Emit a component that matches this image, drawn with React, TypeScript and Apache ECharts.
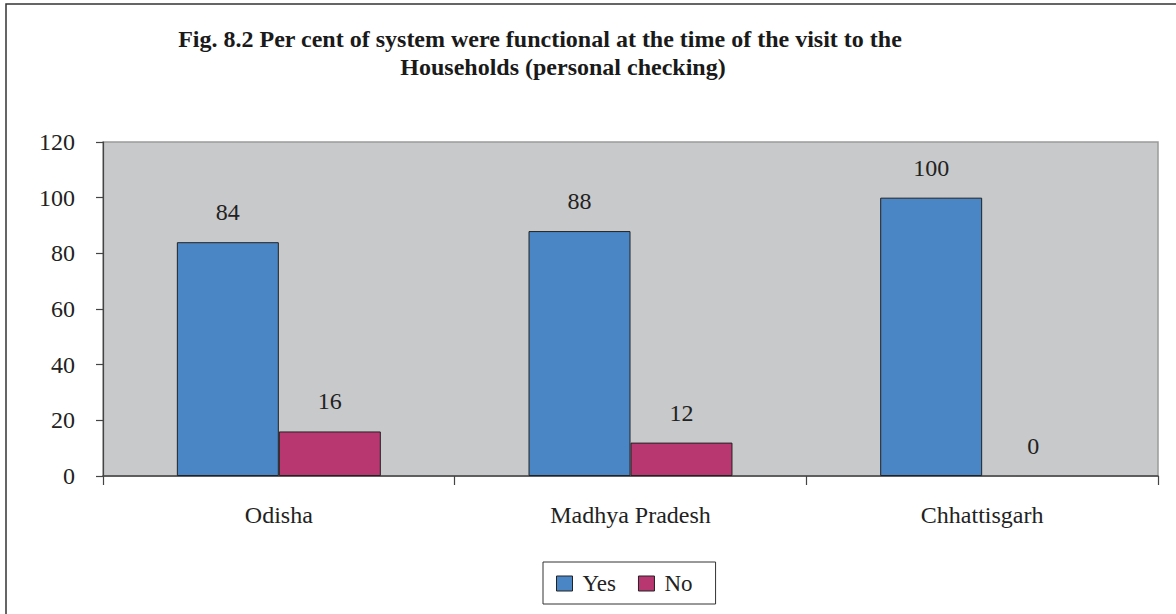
import React, { useEffect, useRef } from "react";
import * as echarts from "echarts";

const categories = ["Odisha", "Madhya Pradesh", "Chhattisgarh"];
const yesValues = [84, 88, 100];
const noValues = [16, 12, 0];
const seriesNames = ["Yes", "No"];
const titleLines = [
  "Fig. 8.2 Per cent of system were functional at the time of the visit to the",
  "Households (personal checking)",
];

const FONT = '"Liberation Serif", "DejaVu Serif", "Times New Roman", serif';

export default function App() {
  const ref = useRef<HTMLDivElement>(null);
  useEffect(() => {
    if (!ref.current) return;
    const chart = echarts.init(ref.current, undefined, { renderer: "svg" });
    const labelCfg = {
      show: true,
      position: "top" as const,
      distance: 18,
      color: "#222",
      fontFamily: FONT,
      fontSize: 24,
    };
    const toItems = (vals: number[]) =>
      vals.map((v) => (v === 0 ? { value: v, itemStyle: { borderWidth: 0 } } : v));
    chart.setOption({
      animation: false,
      backgroundColor: "#ffffff",
      textStyle: { fontFamily: FONT },
      graphic: [
        {
          type: "polyline",
          shape: { points: [[6, 620], [6, 4], [1180, 4]] },
          style: { stroke: "#333", lineWidth: 1.5, fill: null },
          silent: true,
        },
        {
          type: "text",
          x: 540,
          y: 39,
          style: {
            text: titleLines[0],
            font: `bold 24px ${FONT}`,
            fill: "#1a1a1a",
            textAlign: "center",
            textVerticalAlign: "middle",
          },
        },
        {
          type: "text",
          x: 563,
          y: 67,
          style: {
            text: titleLines[1],
            font: `bold 24px ${FONT}`,
            fill: "#1a1a1a",
            textAlign: "center",
            textVerticalAlign: "middle",
          },
        },
      ],
      legend: {
        data: seriesNames,
        left: 543,
        top: 562,
        orient: "horizontal",
        icon: "rect",
        itemWidth: 16,
        itemHeight: 15,
        itemGap: 22,
        borderColor: "#333",
        borderWidth: 1,
        borderRadius: 0,
        padding: [10, 23, 9, 13],
        itemStyle: { borderColor: "#222", borderWidth: 1 },
        textStyle: {
          fontFamily: FONT,
          fontSize: 23,
          color: "#222",
          padding: [0, 0, 0, 5],
        },
      },
      grid: {
        left: 103,
        top: 142,
        right: 18,
        bottom: 138,
        show: true,
        backgroundColor: "#C8C9CB",
        borderColor: "#9a9a9a",
        borderWidth: 1.5,
        containLabel: false,
      },
      xAxis: {
        type: "category",
        data: categories,
        axisLine: { show: true, lineStyle: { color: "#444", width: 1.5 } },
        axisTick: {
          show: true,
          alignWithLabel: false,
          length: 9,
          lineStyle: { color: "#444", width: 1.2 },
        },
        axisLabel: {
          margin: 27,
          fontFamily: FONT,
          fontSize: 24,
          color: "#222",
        },
        splitLine: { show: false },
      },
      yAxis: {
        type: "value",
        min: 0,
        max: 120,
        interval: 20,
        axisLine: { show: true, lineStyle: { color: "#444", width: 1.2 } },
        axisTick: {
          show: true,
          length: 7,
          lineStyle: { color: "#444", width: 1.2 },
        },
        axisLabel: {
          margin: 28,
          fontFamily: FONT,
          fontSize: 24,
          color: "#222",
        },
        splitLine: { show: false },
      },
      series: [
        {
          name: seriesNames[0],
          type: "bar",
          data: toItems(yesValues),
          barGap: "0%",
          barCategoryGap: "42%",
          itemStyle: { color: "#4A86C5", borderColor: "#222", borderWidth: 1 },
          label: labelCfg,
        },
        {
          name: seriesNames[1],
          type: "bar",
          data: toItems(noValues),
          barGap: "0%",
          barCategoryGap: "42%",
          itemStyle: { color: "#B83770", borderColor: "#222", borderWidth: 1 },
          label: labelCfg,
        },
      ],
    });
    return () => chart.dispose();
  }, []);
  return (
    <div
      ref={ref}
      style={{ position: "fixed", left: 0, top: 0, width: 1176, height: 614 }}
    />
  );
}
